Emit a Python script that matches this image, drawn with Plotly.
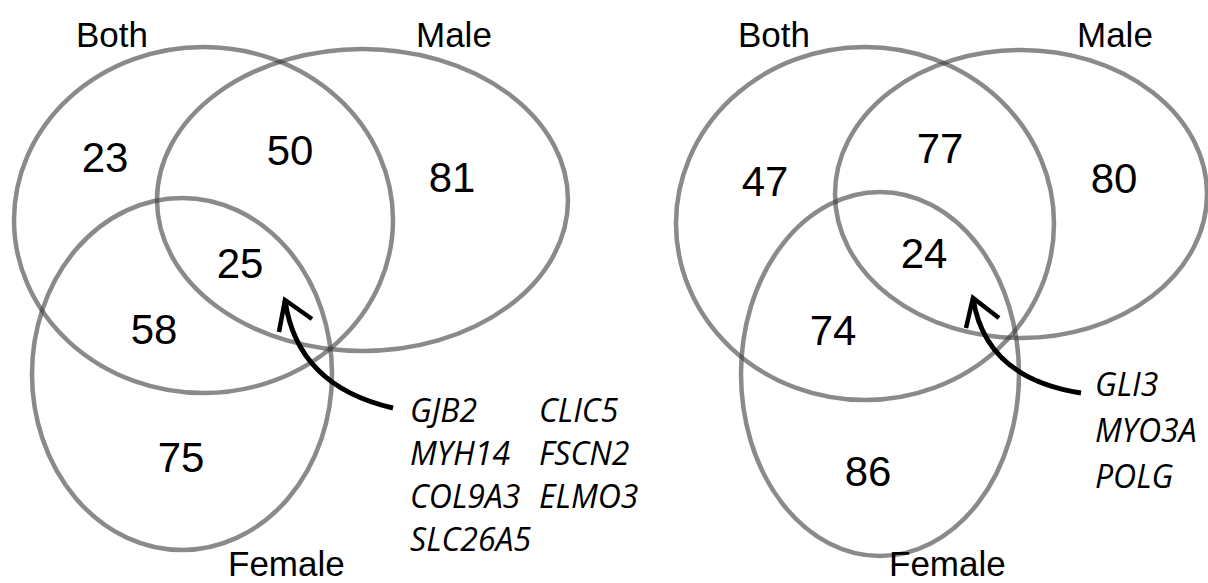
import plotly.graph_objects as go

# ---------------- data ----------------
set_names = ["Both", "Male", "Female"]
regions = ["Both only", "Both∩Male", "Male only", "All three", "Both∩Female", "Female only"]
left_counts = [23, 50, 81, 25, 58, 75]
right_counts = [47, 77, 80, 24, 74, 86]
left_genes_col1 = ["GJB2", "MYH14", "COL9A3", "SLC26A5"]
left_genes_col2 = ["CLIC5", "FSCN2", "ELMO3"]
right_genes = ["GLI3", "MYO3A", "POLG"]

# ---------------- layout geometry (pixels) ----------------
W, H = 1208, 583
# ellipses: (x0, x1, y0, y1)
left_ellipses = [(14, 393, 47, 393), (157, 568, 49, 351), (32, 332, 198, 550)]
right_ellipses = [(676, 1054, 47, 400), (835, 1207, 50, 338), (741, 1019, 192, 556)]
left_count_pos = [(105, 161), (290, 154), (452, 181), (240, 267), (154, 333), (181, 461)]
right_count_pos = [(765, 185), (940, 152), (1114, 182), (924, 257), (833, 334), (868, 475)]
left_label_pos = [(112, 34), (454, 34), (286, 563)]
right_label_pos = [(774, 34), (1115, 34), (947, 563)]
left_gene_x = (408, 537)
left_gene_y0, left_gene_dy = 409, 43.3
right_gene_x = 1093
right_gene_y0, right_gene_dy = 383, 46
# arrows: tail, control, tip, left wing, right wing
left_arrow = [(393, 408), (297, 386), (285, 300), (279, 332), (312, 319)]
right_arrow = [(1081, 393), (985, 378), (973, 298), (966, 328), (999, 318)]

ELLIPSE_COLOR = "rgba(60,60,60,0.6)"
NUM_FONT = dict(family="Liberation Sans, Arial", size=42, color="black")
LABEL_FONT = dict(family="Liberation Sans, Arial", size=35, color="black")
GENE_FONT = dict(family="Open Sans", size=32, color="black", style="italic")

fig = go.Figure()

shapes = []
for (x0, x1, y0, y1) in left_ellipses + right_ellipses:
    shapes.append(dict(type="circle", xref="x", yref="y", x0=x0, x1=x1, y0=y0, y1=y1,
                       line=dict(color=ELLIPSE_COLOR, width=4.5), fillcolor="rgba(0,0,0,0)"))

for (t, c, p, lw, rw) in [left_arrow, right_arrow]:
    shapes.append(dict(type="path", xref="x", yref="y",
                       path=f"M {t[0]},{t[1]} Q {c[0]},{c[1]} {p[0]},{p[1]}",
                       line=dict(color="black", width=5)))
    shapes.append(dict(type="path", xref="x", yref="y",
                       path=f"M {lw[0]},{lw[1]} L {p[0]},{p[1]} L {rw[0]},{rw[1]}",
                       line=dict(color="black", width=4.5)))

# counts
for counts, pos in [(left_counts, left_count_pos), (right_counts, right_count_pos)]:
    fig.add_trace(go.Scatter(
        x=[p[0] for p in pos], y=[p[1] for p in pos],
        text=[str(c) for c in counts], mode="text",
        textposition="middle center", textfont=NUM_FONT,
        hoverinfo="text", hovertext=regions, showlegend=False))

annotations = []
for pos in [left_label_pos, right_label_pos]:
    for name, (x, y) in zip(set_names, pos):
        annotations.append(dict(x=x, y=y, xref="x", yref="y", text=name, showarrow=False,
                                xanchor="center", yanchor="middle", font=LABEL_FONT))

for i, g in enumerate(left_genes_col1):
    annotations.append(dict(x=left_gene_x[0], y=left_gene_y0 + i * left_gene_dy, xref="x", yref="y",
                            text=g, showarrow=False, xanchor="left", yanchor="middle", font=GENE_FONT))
for i, g in enumerate(left_genes_col2):
    annotations.append(dict(x=left_gene_x[1], y=left_gene_y0 + i * left_gene_dy, xref="x", yref="y",
                            text=g, showarrow=False, xanchor="left", yanchor="middle", font=GENE_FONT))
for i, g in enumerate(right_genes):
    annotations.append(dict(x=right_gene_x, y=right_gene_y0 + i * right_gene_dy, xref="x", yref="y",
                            text=g, showarrow=False, xanchor="left", yanchor="middle", font=GENE_FONT))

fig.update_layout(
    width=W, height=H, margin=dict(l=0, r=0, t=0, b=0),
    paper_bgcolor="white", plot_bgcolor="white",
    xaxis=dict(range=[0, W], visible=False, fixedrange=True),
    yaxis=dict(range=[H, 0], visible=False, fixedrange=True),
    shapes=shapes, annotations=annotations, showlegend=False,
)

fig.write_html("out.html", config={"displayModeBar": False},
               post_script="document.body.style.margin='0px';document.body.style.overflow='hidden';")
